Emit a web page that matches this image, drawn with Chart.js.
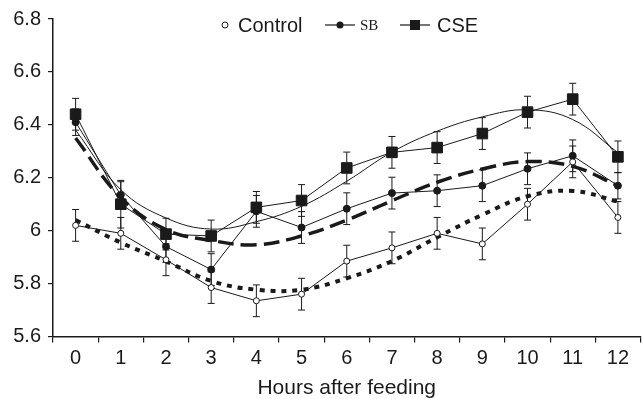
<!DOCTYPE html>
<html>
<head>
<meta charset="utf-8">
<script src="https://cdn.jsdelivr.net/npm/chart.js@4"></script>
<style>
  body { margin: 0; overflow: hidden; background: #fff; }
</style>
</head>
<body>
<canvas id="chart" width="649" height="399"></canvas>
<script>
// hours after feeding
var hours = ['0', '1', '2', '3', '4', '5', '6', '7', '8', '9', '10', '11', '12'];

// measured means
var control = [6.02, 5.99, 5.89, 5.785, 5.735, 5.76, 5.885, 5.935, 5.99, 5.95, 6.10, 6.26, 6.05];
var sb      = [6.41, 6.135, 5.94, 5.853, 6.073, 6.012, 6.083, 6.142, 6.151, 6.17, 6.234, 6.283, 6.17];
var cse     = [6.44, 6.10, 5.987, 5.98, 6.088, 6.114, 6.237, 6.296, 6.314, 6.367, 6.448, 6.497, 6.279];

// error bars (+/-)
var controlErr = [0.06, 0.06, 0.06, 0.06, 0.06, 0.06, 0.06, 0.06, 0.06, 0.06, 0.06, 0.06, 0.06];
var sbErr      = [0.05, 0.05, 0.06, 0.06, 0.06, 0.06, 0.06, 0.06, 0.06, 0.06, 0.06, 0.06, 0.05];
var cseErr     = [0.06, 0.09, 0.06, 0.06, 0.06, 0.06, 0.06, 0.06, 0.06, 0.06, 0.06, 0.06, 0.06];

// trend curves
var controlTrend = [6.04, 5.955, 5.884, 5.81, 5.777, 5.777, 5.82, 5.885, 5.975, 6.06, 6.13, 6.15, 6.11];
var sbTrend      = [6.35, 6.125, 6.004, 5.963, 5.947, 5.98, 6.04, 6.113, 6.183, 6.233, 6.261, 6.243, 6.17];
var cseTrend     = [6.38, 6.155, 6.048, 6.006, 6.034, 6.092, 6.187, 6.297, 6.376, 6.43, 6.457, 6.42, 6.295];

var ink = '#1a1a1a';
var font = "'Liberation Sans', Arial, sans-serif";

var errorBars = {
    id: 'errorBars',
    beforeDatasetsDraw: function (chart) {
        var ctx = chart.ctx;
        var y = chart.scales.y;
        ctx.save();
        ctx.strokeStyle = ink;
        ctx.lineWidth = 1;
        chart.data.datasets.forEach(function (ds, i) {
            if (!ds.errors) return;
            var meta = chart.getDatasetMeta(i);
            meta.data.forEach(function (pt, j) {
                var top = y.getPixelForValue(ds.data[j] + ds.errors[j]);
                var bot = y.getPixelForValue(ds.data[j] - ds.errors[j]);
                ctx.beginPath();
                ctx.moveTo(pt.x, top); ctx.lineTo(pt.x, bot);
                ctx.moveTo(pt.x - 3.5, top); ctx.lineTo(pt.x + 3.5, top);
                ctx.moveTo(pt.x - 3.5, bot); ctx.lineTo(pt.x + 3.5, bot);
                ctx.stroke();
            });
        });
        ctx.restore();
    }
};

var legendBox = {
    id: 'legendBox',
    afterDraw: function (chart) {
        var ctx = chart.ctx;
        var cy = 25;
        var x = 225;
        ctx.save();
        ctx.fillStyle = ink;
        ctx.strokeStyle = ink;
        ctx.lineWidth = 1;
        ctx.textBaseline = 'middle';

        // Control
        ctx.beginPath();
        ctx.arc(x, cy, 3, 0, Math.PI * 2);
        ctx.fillStyle = '#fff';
        ctx.fill();
        ctx.stroke();
        ctx.fillStyle = ink;
        ctx.font = '20px ' + font;
        ctx.fillText('Control', x + 13, cy + 1);

        // SB
        x = 325;
        ctx.lineWidth = 1.2;
        ctx.beginPath();
        ctx.moveTo(x, cy); ctx.lineTo(x + 30, cy);
        ctx.stroke();
        ctx.beginPath();
        ctx.arc(x + 15, cy, 3.5, 0, Math.PI * 2);
        ctx.fill();
        ctx.font = "15px 'Liberation Serif', 'Times New Roman', serif";
        ctx.fillText('SB', x + 35, cy + 1);

        // CSE
        x = 400;
        ctx.beginPath();
        ctx.moveTo(x, cy); ctx.lineTo(x + 30, cy);
        ctx.stroke();
        ctx.fillRect(x + 10, cy - 5, 10, 10);
        ctx.font = '20px ' + font;
        ctx.fillText('CSE', x + 37, cy + 1);
        ctx.restore();
    }
};

var chartObject = new Chart(document.getElementById('chart').getContext('2d'), {
    type: 'line',
    data: {
        labels: hours,
        datasets: [{
            label: 'Control',
            data: control,
            errors: controlErr,
            borderColor: ink,
            borderWidth: 1,
            pointStyle: 'circle',
            pointRadius: 3,
            pointBackgroundColor: '#fff',
            pointBorderColor: ink,
            pointBorderWidth: 1,
            tension: 0
        }, {
            label: 'SB',
            data: sb,
            errors: sbErr,
            borderColor: ink,
            borderWidth: 1,
            pointStyle: 'circle',
            pointRadius: 3.5,
            pointBackgroundColor: ink,
            pointBorderColor: ink,
            tension: 0
        }, {
            label: 'CSE',
            data: cse,
            errors: cseErr,
            borderColor: ink,
            borderWidth: 1,
            pointStyle: 'rect',
            pointRadius: 7.5,
            pointBackgroundColor: ink,
            pointBorderColor: ink,
            tension: 0
        }, {
            label: 'CSE trend',
            data: cseTrend,
            borderColor: ink,
            borderWidth: 1,
            pointRadius: 0,
            tension: 0.4
        }, {
            label: 'SB trend',
            data: sbTrend,
            borderColor: ink,
            borderWidth: 3.5,
            borderDash: [16, 7],
            pointRadius: 0,
            tension: 0.4
        }, {
            label: 'Control trend',
            data: controlTrend,
            borderColor: ink,
            borderWidth: 4,
            borderDash: [5, 6],
            pointRadius: 0,
            tension: 0.4
        }]
    },
    options: {
        responsive: false,
        animation: false,
        layout: { padding: { top: 8, right: 0, left: 0, bottom: 0 } },
        plugins: {
            legend: { display: false },
            tooltip: { enabled: false }
        },
        scales: {
            x: {
                type: 'category',
                offset: true,
                afterFit: function (scale) { scale.height = 62.5; },
                grid: { offset: true, drawOnChartArea: false, tickLength: 6, color: ink, lineWidth: 1.2 },
                border: { display: true, color: ink, width: 1.5 },
                ticks: { color: ink, font: { family: font, size: 20 }, padding: 4, maxRotation: 0 },
                title: {
                    display: true,
                    text: 'Hours after feeding',
                    color: ink,
                    font: { family: font, size: 21, lineHeight: 1 },
                    padding: { top: 0, bottom: 0 }
                }
            },
            y: {
                min: 5.6,
                max: 6.8,
                afterFit: function (scale) { scale.width = 53; },
                grid: { drawOnChartArea: false, tickLength: 5, color: ink, lineWidth: 1.2 },
                border: { display: true, color: ink, width: 1.5 },
                ticks: {
                    stepSize: 0.2,
                    color: ink,
                    padding: 7,
                    font: { family: font, size: 20 },
                    callback: function (v) { return String(Math.round(v * 10) / 10); }
                }
            }
        }
    },
    plugins: [errorBars, legendBox]
});
</script>
</body>
</html>
